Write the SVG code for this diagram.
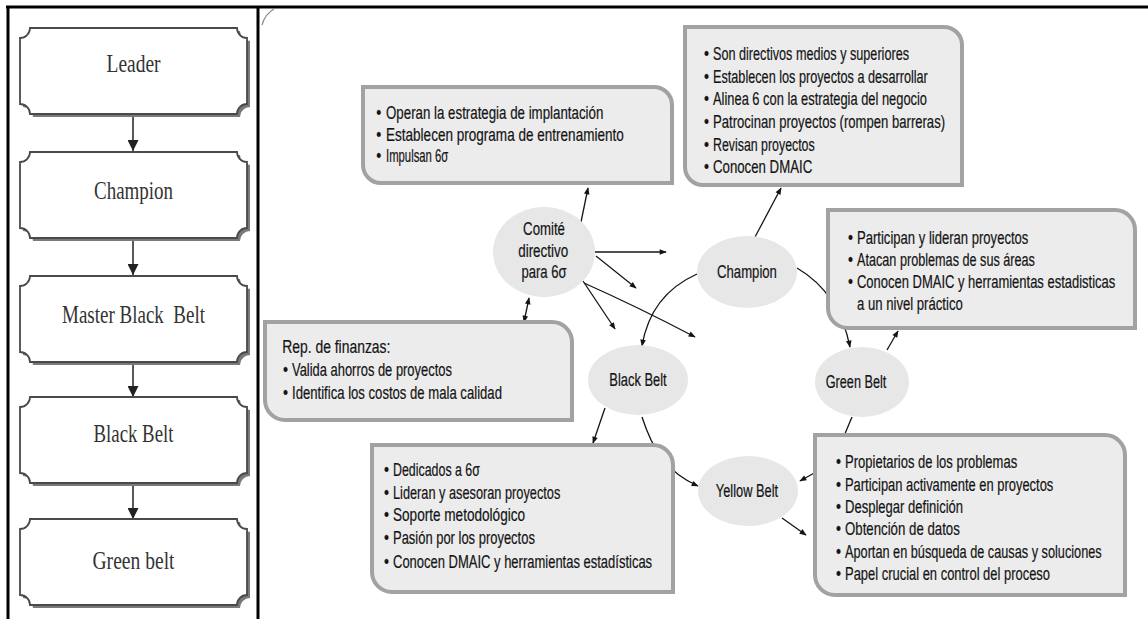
<svg xmlns="http://www.w3.org/2000/svg" xmlns:xlink="http://www.w3.org/1999/xlink" width="1148" height="619" viewBox="0 0 1148 619">
  <style>
    .frame { stroke: #000; stroke-width: 3; fill: none; }
    .plate { fill: #fff; stroke: #4a4a4a; stroke-width: 1.8; }
    .plate-shadow { fill: #7a7a7a; }
    .rank { font-family: "Liberation Serif", "Times New Roman", serif; font-size: 25px; fill: #333; text-anchor: middle; }
    .card { fill: #ececec; stroke: #a2a2a2; stroke-width: 4; }
    .bubble { fill: #e7e7e7; }
    .t { font-family: "Liberation Sans", Arial, sans-serif; font-size: 17.5px; fill: #141414; stroke: #141414; stroke-width: 0.2; }
    .c { text-anchor: middle; }
    .link { fill: none; stroke: #141414; stroke-width: 1.3; }
    .down { stroke: #222; stroke-width: 1.5; fill: none; }
  </style>
  <defs>
    <marker id="ah" viewBox="0 0 10 10" refX="9" refY="5" markerWidth="8" markerHeight="7" markerUnits="userSpaceOnUse" orient="auto-start-reverse">
      <path d="M0,1 L10,5 L0,9 Z" fill="#141414"/>
    </marker>
    <marker id="ahBig" viewBox="0 0 10 10" refX="10" refY="5" markerWidth="18" markerHeight="11" markerUnits="userSpaceOnUse" orient="auto">
      <path d="M0,0 L10,5 L0,10 Z" fill="#222"/>
    </marker>
    <!-- plaque with concave corners, 227 x 86 -->
    <path id="plate" d="M10,0 H217 A10 10 0 0 0 227,10 V76 A10 10 0 0 0 217,86 H10 A10 10 0 0 0 0,76 V10 A10 10 0 0 0 10,0 Z"/>
  </defs>

  <rect width="1148" height="619" fill="#fff"/>

  <!-- outer frame and divider -->
  <g id="frame">
    <line class="frame" x1="6" y1="7" x2="1148" y2="7"/>
    <line class="frame" x1="8" y1="6" x2="8" y2="619"/>
    <line class="frame" x1="258" y1="6" x2="258" y2="619"/>
    <path d="M262,25 Q265,14 274,9" fill="none" stroke="#8a8a8a" stroke-width="1.2"/>
  </g>

  <!-- hierarchy column -->
  <g id="hierarchy-links">
    <line class="down" x1="133" y1="114" x2="133" y2="151" marker-end="url(#ahBig)"/>
    <line class="down" x1="133" y1="238" x2="133" y2="275" marker-end="url(#ahBig)"/>
    <line class="down" x1="133" y1="362" x2="133" y2="397" marker-end="url(#ahBig)"/>
    <line class="down" x1="133" y1="484" x2="133" y2="519" marker-end="url(#ahBig)"/>
  </g>

  <g id="rank-leader" transform="translate(20,28)">
    <use xlink:href="#plate" class="plate-shadow" x="3" y="3"/>
    <use xlink:href="#plate" class="plate"/>
    <text class="rank" x="113.5" y="44" textLength="54" lengthAdjust="spacingAndGlyphs">Leader</text>
  </g>
  <g id="rank-champion" transform="translate(20,152)">
    <use xlink:href="#plate" class="plate-shadow" x="3" y="3"/>
    <use xlink:href="#plate" class="plate"/>
    <text class="rank" x="113.5" y="47" textLength="79" lengthAdjust="spacingAndGlyphs">Champion</text>
  </g>
  <g id="rank-master-black-belt" transform="translate(20,276)">
    <use xlink:href="#plate" class="plate-shadow" x="3" y="3"/>
    <use xlink:href="#plate" class="plate"/>
    <text class="rank" x="113.5" y="47" textLength="143" lengthAdjust="spacingAndGlyphs" style="white-space:pre">Master Black  Belt</text>
  </g>
  <g id="rank-black-belt" transform="translate(20,397)">
    <use xlink:href="#plate" class="plate-shadow" x="3" y="3"/>
    <use xlink:href="#plate" class="plate"/>
    <text class="rank" x="113.5" y="45" textLength="80" lengthAdjust="spacingAndGlyphs">Black Belt</text>
  </g>
  <g id="rank-green-belt" transform="translate(20,519)">
    <use xlink:href="#plate" class="plate-shadow" x="3" y="3"/>
    <use xlink:href="#plate" class="plate"/>
    <text class="rank" x="113.5" y="50" textLength="82" lengthAdjust="spacingAndGlyphs">Green belt</text>
  </g>

  <!-- role map connectors -->
  <g id="connectors">
    <path class="link" d="M581,222 L588,188" marker-end="url(#ah)"/>
    <path class="link" d="M595,252 L666,252" marker-end="url(#ah)"/>
    <path class="link" d="M596,256 L636,288" marker-end="url(#ah)"/>
    <path class="link" d="M583,281 L615,329" marker-end="url(#ah)"/>
    <path class="link" d="M584,283 Q640,308 695,337" marker-end="url(#ah)"/>
    <path class="link" d="M529,298 L524,322" marker-start="url(#ah)" marker-end="url(#ah)"/>
    <path class="link" d="M755,237 L781,188" marker-end="url(#ah)"/>
    <path class="link" d="M697,274 C668,287 648,310 642,346" marker-end="url(#ah)"/>
    <path class="link" d="M797,268 C826,285 843,312 850,347" marker-end="url(#ah)"/>
    <path class="link" d="M887,350 L898,331" marker-end="url(#ah)"/>
    <path class="link" d="M852,417 L844,436"/>
    <path class="link" d="M816,472 L800,481" marker-end="url(#ah)"/>
    <path class="link" d="M782,518 L806,535" marker-end="url(#ah)"/>
    <path class="link" d="M605,408 L593,443" marker-end="url(#ah)"/>
    <path class="link" d="M642,417 C652,448 666,472 698,486" marker-end="url(#ah)"/>
  </g>

  <!-- role bubbles -->
  <g id="node-comite">
    <ellipse class="bubble" cx="544" cy="252" rx="51" ry="45"/>
    <g transform="translate(544,0) scale(0.82,1)">
      <text class="t c" x="0" y="235" textLength="51" lengthAdjust="spacingAndGlyphs">Comité</text>
      <text class="t c" x="-1" y="257" textLength="61" lengthAdjust="spacingAndGlyphs">directivo</text>
      <text class="t c" x="0" y="278" textLength="55" lengthAdjust="spacingAndGlyphs">para 6σ</text>
    </g>
  </g>
  <g id="node-champion">
    <ellipse class="bubble" cx="747" cy="272" rx="50" ry="36"/>
    <g transform="translate(747,0) scale(0.82,1)">
      <text class="t c" x="0" y="278" textLength="73" lengthAdjust="spacingAndGlyphs">Champion</text>
    </g>
  </g>
  <g id="node-black-belt">
    <ellipse class="bubble" cx="638" cy="380" rx="50" ry="35"/>
    <g transform="translate(638,0) scale(0.82,1)">
      <text class="t c" x="0" y="386" textLength="70" lengthAdjust="spacingAndGlyphs">Black Belt</text>
    </g>
  </g>
  <g id="node-green-belt">
    <ellipse class="bubble" cx="862" cy="382" rx="47" ry="35"/>
    <g transform="translate(856,0) scale(0.82,1)">
      <text class="t c" x="0" y="388" textLength="74" lengthAdjust="spacingAndGlyphs">Green Belt</text>
    </g>
  </g>
  <g id="node-yellow-belt">
    <ellipse class="bubble" cx="748" cy="491" rx="50" ry="35"/>
    <g transform="translate(747,0) scale(0.82,1)">
      <text class="t c" x="0" y="497" textLength="76" lengthAdjust="spacingAndGlyphs">Yellow Belt</text>
    </g>
  </g>

  <!-- description cards: rounded top-right and bottom-left corners;
       text runs are set in a horizontally condensed frame (scale 0.82) -->
  <g id="card-comite">
    <path class="card" d="M363,87 H654 A18 18 0 0 1 672,105 V183 H381 A18 18 0 0 1 363,165 Z"/>
    <g transform="translate(386,0) scale(0.82,1)">
      <text class="t" x="-12" y="119">•</text><text class="t" x="0" y="119" textLength="265" lengthAdjust="spacingAndGlyphs">Operan la estrategia de implantación</text>
      <text class="t" x="-12" y="141">•</text><text class="t" x="0" y="141" textLength="290" lengthAdjust="spacingAndGlyphs">Establecen programa de entrenamiento</text>
      <text class="t" x="-12" y="162">•</text><text class="t" x="0" y="162" textLength="76" lengthAdjust="spacingAndGlyphs">Impulsan 6σ</text>
    </g>
  </g>
  <g id="card-champion">
    <path class="card" d="M685,27 H944 A18 18 0 0 1 962,45 V185 H703 A18 18 0 0 1 685,167 Z"/>
    <g transform="translate(713,0) scale(0.82,1)">
      <text class="t" x="-11" y="60">•</text><text class="t" x="0" y="60" textLength="239" lengthAdjust="spacingAndGlyphs">Son directivos medios y superiores</text>
      <text class="t" x="-11" y="83">•</text><text class="t" x="0" y="83" textLength="262" lengthAdjust="spacingAndGlyphs">Establecen los proyectos a desarrollar</text>
      <text class="t" x="-11" y="105">•</text><text class="t" x="0" y="105" textLength="261" lengthAdjust="spacingAndGlyphs">Alinea 6 con la estrategia del negocio</text>
      <text class="t" x="-11" y="128">•</text><text class="t" x="0" y="128" textLength="283" lengthAdjust="spacingAndGlyphs">Patrocinan proyectos (rompen barreras)</text>
      <text class="t" x="-11" y="151">•</text><text class="t" x="0" y="151" textLength="124" lengthAdjust="spacingAndGlyphs">Revisan proyectos</text>
      <text class="t" x="-11" y="173">•</text><text class="t" x="0" y="173" textLength="121" lengthAdjust="spacingAndGlyphs">Conocen DMAIC</text>
    </g>
  </g>
  <g id="card-green-belt">
    <path class="card" d="M828,210 H1115 A20 20 0 0 1 1135,230 V328 H848 A20 20 0 0 1 828,308 Z"/>
    <g transform="translate(857,0) scale(0.82,1)">
      <text class="t" x="-11" y="244">•</text><text class="t" x="0" y="244" textLength="209" lengthAdjust="spacingAndGlyphs">Participan y lideran proyectos</text>
      <text class="t" x="-11" y="266">•</text><text class="t" x="0" y="266" textLength="217" lengthAdjust="spacingAndGlyphs">Atacan problemas de sus áreas</text>
      <text class="t" x="-11" y="288">•</text><text class="t" x="0" y="288" textLength="315" lengthAdjust="spacingAndGlyphs">Conocen DMAIC y herramientas estadisticas</text>
      <text class="t" x="0" y="310" textLength="129" lengthAdjust="spacingAndGlyphs">a un nivel práctico</text>
    </g>
  </g>
  <g id="card-finanzas">
    <path class="card" d="M265,322 H552 A20 20 0 0 1 572,342 V420 H285 A20 20 0 0 1 265,400 Z"/>
    <g transform="translate(292,0) scale(0.82,1)">
      <text class="t" x="-12" y="353" textLength="132" lengthAdjust="spacingAndGlyphs">Rep. de finanzas:</text>
      <text class="t" x="-11" y="376">•</text><text class="t" x="0" y="376" textLength="195" lengthAdjust="spacingAndGlyphs">Valida ahorros de proyectos</text>
      <text class="t" x="-11" y="399">•</text><text class="t" x="0" y="399" textLength="256" lengthAdjust="spacingAndGlyphs">Identifica los costos de mala calidad</text>
    </g>
  </g>
  <g id="card-black-belt">
    <path class="card" d="M372,445 H653 A20 20 0 0 1 673,465 V592 H392 A20 20 0 0 1 372,572 Z"/>
    <g transform="translate(393,0) scale(0.82,1)">
      <text class="t" x="-11" y="476">•</text><text class="t" x="0" y="476" textLength="106" lengthAdjust="spacingAndGlyphs">Dedicados a 6σ</text>
      <text class="t" x="-11" y="499">•</text><text class="t" x="0" y="499" textLength="204" lengthAdjust="spacingAndGlyphs">Lideran y asesoran proyectos</text>
      <text class="t" x="-11" y="521">•</text><text class="t" x="0" y="521" textLength="161" lengthAdjust="spacingAndGlyphs">Soporte metodológico</text>
      <text class="t" x="-11" y="544">•</text><text class="t" x="0" y="544" textLength="173" lengthAdjust="spacingAndGlyphs">Pasión por los proyectos</text>
      <text class="t" x="-11" y="568">•</text><text class="t" x="0" y="568" textLength="316" lengthAdjust="spacingAndGlyphs">Conocen DMAIC y herramientas estadísticas</text>
    </g>
  </g>
  <g id="card-yellow-belt">
    <path class="card" d="M815,435 H1105 A20 20 0 0 1 1125,455 V595 H835 A20 20 0 0 1 815,575 Z"/>
    <g transform="translate(845,0) scale(0.82,1)">
      <text class="t" x="-11" y="468">•</text><text class="t" x="0" y="468" textLength="210" lengthAdjust="spacingAndGlyphs">Propietarios de los problemas</text>
      <text class="t" x="-11" y="491">•</text><text class="t" x="0" y="491" textLength="254" lengthAdjust="spacingAndGlyphs">Participan activamente en proyectos</text>
      <text class="t" x="-11" y="513">•</text><text class="t" x="0" y="513" textLength="144" lengthAdjust="spacingAndGlyphs">Desplegar definición</text>
      <text class="t" x="-11" y="535">•</text><text class="t" x="0" y="535" textLength="140" lengthAdjust="spacingAndGlyphs">Obtención de datos</text>
      <text class="t" x="-11" y="558">•</text><text class="t" x="0" y="558" textLength="313" lengthAdjust="spacingAndGlyphs">Aportan en búsqueda de causas y soluciones</text>
      <text class="t" x="-11" y="580">•</text><text class="t" x="0" y="580" textLength="250" lengthAdjust="spacingAndGlyphs">Papel crucial en control del proceso</text>
    </g>
  </g>
</svg>
